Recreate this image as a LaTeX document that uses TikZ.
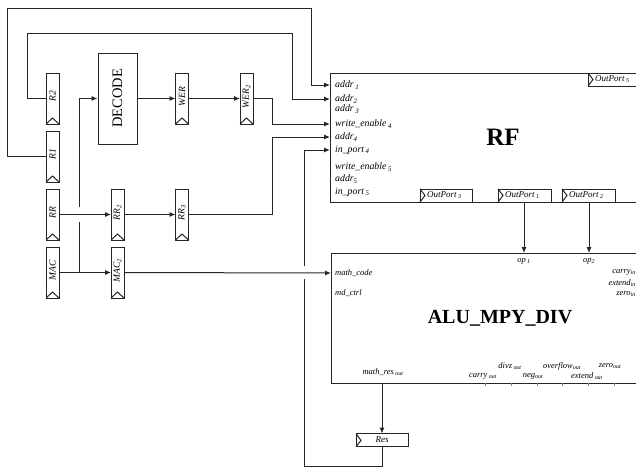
\documentclass[tikz,border=0pt]{standalone}
\usepackage{fontspec}
\setmainfont{Liberation Serif}
\usetikzlibrary{arrows.meta}
\newcommand\sbs[1]{\textsubscript{#1}}
\newcommand\regis[4]{%
  \node[regbox] (#1) at (#2,#3) {};
  \draw[wire] (#1.south west) -- ++(6.5,-6) -- (#1.south east);
  \node[reglab] at (#2,#3-2) {#4};}
\newcommand\outport[5]{% name, left x, top y, width, label
  \node[portbox,minimum width=#4pt,anchor=north west] (#1) at (#2,#3) {};
  \draw[wire] (#1.north west) -- ++(5,6.5) -- (#1.south west);
  \node[plab] at ([xshift=7pt]#1.west) {#5};}
\begin{document}
\begin{tikzpicture}[x=1pt,y=-1pt,
  wire/.style={line width=1pt,draw=black!85},
  arr/.style={wire,-{Latex[length=6pt,width=5pt]}},
  regbox/.style={draw=black!85,line width=1pt,minimum width=13pt,minimum height=51pt,inner sep=0pt,outer sep=0pt},
  portbox/.style={draw=black!85,line width=1pt,minimum height=13pt,inner sep=0pt,outer sep=0pt},
  bigbox/.style={draw=black!85,line width=1pt,minimum width=320pt,inner sep=0pt,outer sep=0pt,anchor=north west},
  reglab/.style={rotate=90,font=\fontsize{9.5}{9.5}\selectfont\itshape,inner sep=0pt},
  plab/.style={font=\fontsize{9}{9}\selectfont\itshape,anchor=west,inner sep=0pt},
  lab/.style={font=\fontsize{8.5}{9}\selectfont\itshape,inner sep=0pt},
  rflab/.style={font=\fontsize{9.8}{10}\selectfont\itshape,inner sep=0pt,anchor=west},
  rlab/.style={lab,anchor=east},
  llab/.style={lab,anchor=west}]
\useasboundingbox (0,0) rectangle (636,472);
\clip (0,0) rectangle (636,472);
% registers
\regis{R2}{52.5}{98.5}{R2}
\regis{R1}{52.5}{156.5}{R1}
\regis{RR}{52.5}{214.5}{RR}
\regis{MAC}{52.5}{272.5}{MAC}
\regis{RRb}{117.5}{214.5}{RR\sbs{2}}
\regis{MACb}{117.5}{272.5}{MAC\sbs{2}}
\regis{RRc}{182}{214.5}{RR\sbs{3}}
\regis{WER}{182}{98.5}{WER}
\regis{WERb}{246.5}{98.5}{WER\sbs{2}}
% decode
\node[draw=black!85,line width=1pt,minimum width=39pt,minimum height=91pt,inner sep=0pt] (DEC) at (117.5,98.5) {};
\node[rotate=90,font=\fontsize{14.5}{15}\selectfont] at (DEC.center) {DECODE};
% RF
\node[bigbox,minimum height=129pt] (RF) at (330,73) {};
\node[font=\fontsize{25}{25}\selectfont\bfseries] at (503,137) {RF};
\node[rflab] (a1) at (335,85) {addr\,\sbs{1}};
\node[rflab] (a2) at (335,99) {addr\sbs{2}};
\node[rflab] (a3) at (335,109) {addr\,\sbs{3}};
\node[rflab] (we4) at (335,124) {write\_enable\,\sbs{4}};
\node[rflab] (a4) at (335,137) {addr\sbs{4}};
\node[rflab] (ip4) at (335,150) {in\_port\,\sbs{4}};
\node[rflab] (we5) at (335,167) {write\_enable\,\sbs{5}};
\node[rflab] (a5) at (335,179) {addr\sbs{5}};
\node[rflab] (ip5) at (335,192) {in\_port\,\sbs{5}};
\outport{OP5}{588}{73}{60}{OutPort\,\sbs{5}}
\outport{OP3}{420}{189}{52}{OutPort\,\sbs{3}}
\outport{OP1}{498}{189}{53}{OutPort\,\sbs{1}}
\outport{OP2}{562}{189}{53}{OutPort\,\sbs{2}}
% ALU
\node[bigbox,minimum height=130pt] (ALU) at (331,253) {};
\node[font=\fontsize{20}{20}\selectfont\bfseries] at (500,318) {ALU\_MPY\_DIV};
\node[lab] (op1) at (524,261) {op\,\sbs{1}};
\node[lab] (op2) at (589,261) {op\sbs{2}};
\node[llab] (mc) at (335,273) {math\_code};
\node[llab] (md) at (335,293) {md\_ctrl};
\node[rlab] at (636,272) {carry\sbs{in}};
\node[rlab] at (636,283) {extend\sbs{in}};
\node[rlab] at (636,294) {zero\sbs{in}};
\node[lab] (mro) at (383,372) {math\_res\,\sbs{out}};
\node[lab] at (483,376) {carry\,\sbs{out}};
\node[lab] at (510,366) {divz\,\sbs{out}};
\node[lab] at (533,376) {neg\sbs{out}};
\node[lab] at (562,366) {overflow\sbs{out}};
\node[lab] at (587,376) {extend\,\sbs{out}};
\node[lab] at (610,366) {zero\sbs{out}};
\foreach \tx in {485,511,537,562,588,614}
  \draw[black!50,line width=0.5pt] (\tx,383) -- (\tx,386);
% Res
\node[portbox,minimum width=52pt] (Res) at (382,440) {};
\draw[wire] (Res.north west) -- ++(5,7) -- (Res.south west);
\node[lab,font=\fontsize{9}{9}\selectfont\itshape] at (Res.center) {Res};
% wires
\draw[arr] (R1.west) -- (7.5,156.5) -- (7.5,8) -- (311,8) -- (311,85) -- (RF.west |- a1);
\draw[arr] (R2.west) -- (27,98.5) -- (27,33) -- (292,33) -- (292,99) -- (RF.west |- a2);
\draw[arr] (WERb.east) -- (272,98.5) -- (272,124) -- (RF.west |- we4);
\draw[arr] (RRc.east) -- (272,214.5) -- (272,137) -- (RF.west |- a4);
\draw[arr] (RR.east) -- (RRb.west);
\draw[arr] (RRb.east) -- (RRc.west);
\draw[arr] (MAC.east) -- (MACb.west);
\draw[arr] (MACb.east) -- (ALU.west |- mc);
\coordinate (j1) at (79,272.5);
\draw[wire] (j1) -- (79,222);
\draw[arr] (79,207) -- (79,98.5) -- (DEC.west);
\draw[arr] (DEC.east) -- (WER.west);
\draw[arr] (WER.east) -- (WERb.west);
\draw[arr] (OP1.south -| op1) -- (ALU.north -| op1);
\draw[arr] (OP2.south -| op2) -- (ALU.north -| op2);
\draw[arr] (ALU.south -| Res) -- (Res.north);
\draw[wire] (Res.south) -- (382,466) -- (304,466) -- (304,279);
\draw[arr] (304,266) -- (304,150) -- (RF.west |- ip4);
\end{tikzpicture}
\end{document}
